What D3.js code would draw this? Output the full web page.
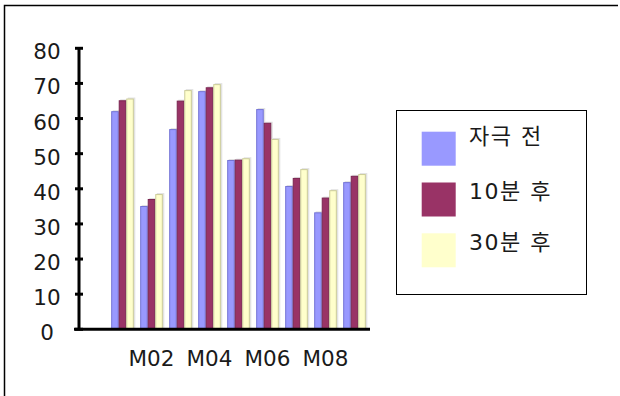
<!DOCTYPE html>
<html><head><meta charset="utf-8">
<script src="https://cdn.jsdelivr.net/npm/d3@7"></script>
<style>body{margin:0;background:#fff}svg{display:block}</style>
</head><body>
<svg id="c" width="620" height="396"></svg>
<script>
const categories = ["", "M01", "M02", "M03", "M04", "M05", "M06", "M07", "M08", "M09"];
const shownLabels = ["M02", "M04", "M06", "M08"];
const seriesNames = ["자극 전", "10분 후", "30분 후"];
const before = [null, 62.1, 35.1, 57.0, 67.8, 48.2, 62.7, 40.8, 33.3, 41.9];
const after10 = [null, 65.2, 37.1, 65.1, 68.9, 48.3, 58.8, 43.1, 37.5, 43.7];
const after30 = [null, 65.7, 38.5, 68.1, 69.8, 48.7, 54.2, 45.6, 39.6, 44.2];
const yTicks = [0, 10, 20, 30, 40, 50, 60, 70, 80];
const fills = ["#9999ff", "#993366", "#ffffcc"];
const strokes = ["#7474d6", "#7a2550", "#cccc99"];

const svg = d3.select("#c");
const fontStack = "'DejaVu Sans', 'Noto Sans CJK KR', sans-serif";
const textFill = "#1a1a1a";

// outer frame (top and left only)
svg.append("path").attr("d", "M4.5,396 V5.5 H618").attr("fill", "none").attr("stroke", "#000").attr("stroke-width", 1.5);

const x0 = d3.scaleBand().domain(categories).range([79, 369]).paddingInner(0.22).paddingOuter(0.11);
const x1 = d3.scaleBand().domain(seriesNames).range([0, x0.bandwidth()]);
const y = d3.scaleLinear().domain([0, 80]).range([329.3, 48.3]);

const allSeries = [before, after10, after30];
const data = [];
categories.forEach((c, i) => {
  allSeries.forEach((s, k) => {
    if (s[i] != null) data.push({c, k, name: seriesNames[k], v: s[i]});
  });
});

// shadows
svg.append("g").selectAll("rect").data(data).join("rect")
  .attr("x", d => x0(d.c) + x1(d.name) + 1.5)
  .attr("y", d => y(d.v) - 1)
  .attr("width", x1.bandwidth())
  .attr("height", d => y(0) - y(d.v) + 1)
  .attr("fill", "#e2e2e2");

svg.append("g").selectAll("rect").data(data).join("rect")
  .attr("x", d => x0(d.c) + x1(d.name) + 0.5)
  .attr("y", d => y(d.v) + 0.5)
  .attr("width", x1.bandwidth() - 1)
  .attr("height", d => y(0) - y(d.v) - 0.5)
  .attr("fill", d => fills[d.k])
  .attr("stroke", d => strokes[d.k])
  .attr("stroke-width", 1);

// y axis
const yAxis = d3.axisLeft(y).tickValues(yTicks).tickSize(0).tickPadding(0);
const yg = svg.append("g").attr("transform", "translate(79,0)").call(yAxis);
yg.select(".domain").remove();
yg.selectAll(".tick line").remove();
yg.selectAll(".tick text")
  .attr("x", -32).attr("dy", "0.35em").attr("text-anchor", "middle")
  .attr("transform", "translate(0,3)")
  .attr("font-family", fontStack).attr("font-size", 21.5).attr("fill", textFill);
svg.append("line").attr("x1", 79).attr("x2", 79).attr("y1", y(80)).attr("y2", y(0))
  .attr("stroke", "#000").attr("stroke-width", 3);
svg.append("g").selectAll("line").data(yTicks).join("line")
  .attr("x1", 75).attr("x2", 83).attr("y1", d => y(d)).attr("y2", d => y(d))
  .attr("stroke", "#000").attr("stroke-width", 3);

// x axis
svg.append("line").attr("x1", 74).attr("x2", 370).attr("y1", y(0)).attr("y2", y(0))
  .attr("stroke", "#000").attr("stroke-width", 3);
const xAxis = d3.axisBottom(x0).tickSize(0).tickPadding(0)
  .tickFormat(d => shownLabels.includes(d) ? d : "");
const xg = svg.append("g").attr("transform", "translate(0,365.5)").call(xAxis);
xg.select(".domain").remove();
xg.selectAll(".tick text").attr("y", 0).attr("dy", 0)
  .attr("font-family", fontStack).attr("font-size", 21.5).attr("fill", textFill);

// legend
const lg = svg.append("g");
lg.append("rect").attr("x", 396.5).attr("y", 110.5).attr("width", 190).attr("height", 184)
  .attr("fill", "#fff").attr("stroke", "#000").attr("stroke-width", 1);
const ly = d3.scalePoint().domain(seriesNames).range([131.7, 233.3]);
seriesNames.forEach((n, k) => {
  lg.append("rect").attr("x", 421.7).attr("y", ly(n)).attr("width", 34).attr("height", 34)
    .attr("fill", fills[k]);
  lg.append("text").attr("x", 469).attr("y", ly(n) + (k === 0 ? 5 : 9))
    .attr("dy", "0.35em")
    .attr("font-family", fontStack).attr("font-size", 22).attr("letter-spacing", 1.5)
    .attr("fill", textFill).text(n);
});
</script>
</body></html>
